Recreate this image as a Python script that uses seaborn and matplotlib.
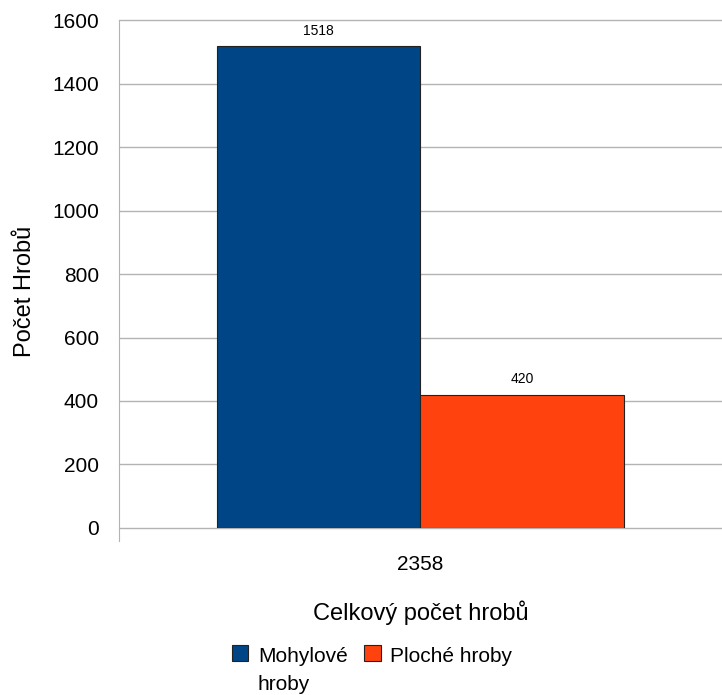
import seaborn as sns
import matplotlib.pyplot as plt
import pandas as pd

# data
celkem = ["2358"]
serie = ["Mohylové hroby", "Ploché hroby"]
pocty = [1518, 420]
barvy = ["#004586", "#ff420e"]

df = pd.DataFrame({"celkem": celkem * len(serie), "typ": serie, "pocet": pocty})

sns.set_style("white")
plt.rcParams['font.family'] = ['Liberation Sans', 'DejaVu Sans']
plt.rcParams['text.color'] = 'black'
plt.rcParams['xtick.color'] = 'black'
plt.rcParams['ytick.color'] = 'black'
plt.rcParams['axes.labelcolor'] = 'black'

fig = plt.figure(figsize=(7.22, 6.95), dpi=100)
ax = fig.add_axes([0.1648, 0.2403, 0.8352, 0.7309])

sns.barplot(data=df, x="celkem", y="pocet", hue="typ", palette=barvy,
            width=0.675, edgecolor="#222222", linewidth=0.8, saturation=1,
            ax=ax, zorder=3)

for c in ax.containers:
    ax.bar_label(c, padding=6, fontsize=10)

ax.set_ylim(0, 1600)
ax.set_yticks(range(0, 1601, 200))
ax.set_xlim(-0.5, 0.5)
ax.yaxis.grid(True, color="#b3b3b3", linewidth=1, zorder=0)
for g in ax.get_ygridlines():
    g.set_clip_on(False)
for s in ["top", "right", "bottom"]:
    ax.spines[s].set_visible(False)
ax.spines["left"].set_color("#b3b3b3")
ax.spines["left"].set_bounds(-40, 1600)
ax.tick_params(axis="y", length=8.6, width=1, color="#b3b3b3", labelsize=15, pad=5.8)
ax.tick_params(axis="x", length=0, labelsize=15, pad=19.5)

ax.set_ylabel("Počet Hrobů", fontsize=17)
ax.yaxis.set_label_coords(-0.137, 0.465)
ax.set_xlabel("Celkový počet hrobů", fontsize=17, labelpad=19)

h, l = ax.get_legend_handles_labels()
leg = ax.legend(h, ["Mohylové\nhroby", "Ploché hroby\n "], ncol=2, loc="upper left",
                bbox_to_anchor=(0.187, -0.235), frameon=False, fontsize=15,
                handlelength=0.8, handleheight=0.85, handletextpad=0.45,
                columnspacing=0.8, borderpad=0, borderaxespad=0, labelspacing=0.2)
for t in leg.get_texts():
    t.set_linespacing(1.6)
for p in leg.legend_handles:
    p.set_y(p.get_y() + 13)
    p.set_edgecolor("#222222")

plt.savefig("out.png", dpi=100)
